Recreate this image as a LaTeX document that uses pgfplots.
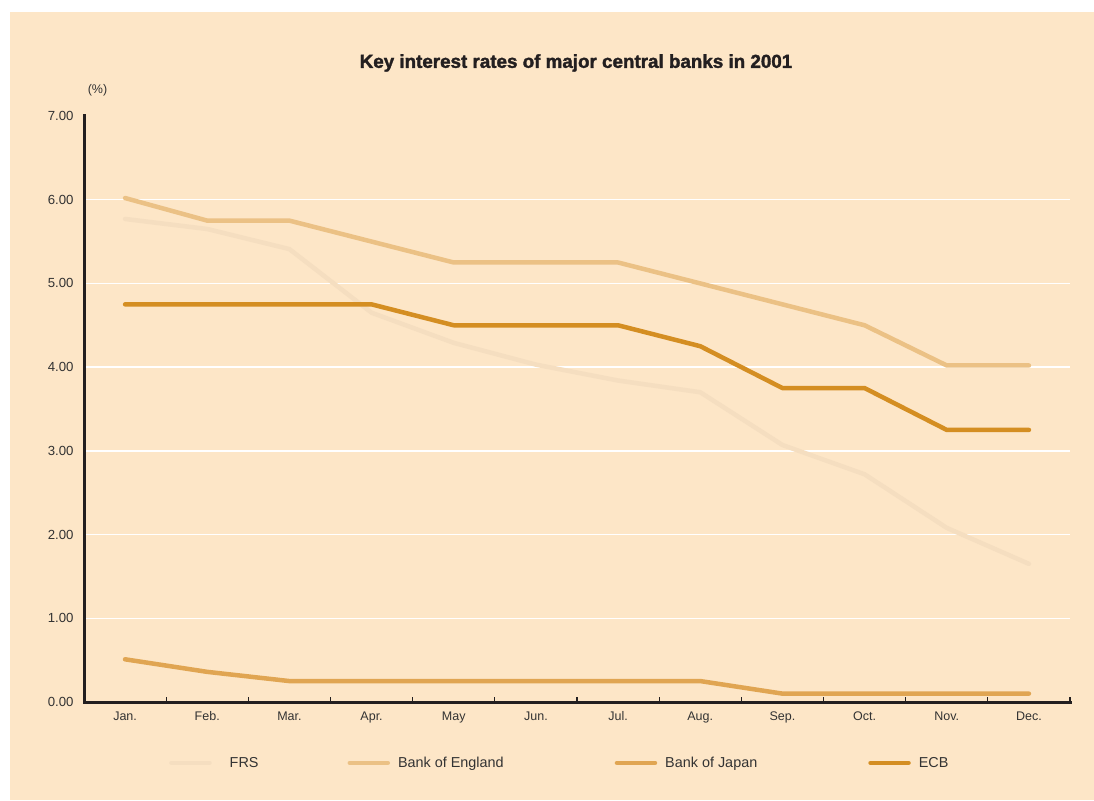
\documentclass[border=0pt]{standalone}
\usepackage{fontspec}
\setmainfont{Liberation Sans}
\newfontfamily\titlefont{Liberation Sans Bold}[FakeBold=1.8]
\usepackage{pgfplots}
\pgfplotsset{compat=1.18}
\definecolor{bg}{HTML}{FDE6C7}
\definecolor{frs}{HTML}{F5DEC0}
\definecolor{boe}{HTML}{EBC185}
\definecolor{boj}{HTML}{E0A552}
\definecolor{ecb}{HTML}{D48E22}
\definecolor{axisc}{HTML}{231F20}
\definecolor{txt}{HTML}{333333}
\begin{document}
\begin{tikzpicture}[x=1pt,y=1pt]
\fill[white] (0,0) rectangle (1094,800);
\fill[bg] (10,0) rectangle (1094,788);
\node[font=\titlefont\fontsize{18.8}{21}\selectfont, text=axisc] at (576,737) {Key interest rates of major central banks in 2001};
\node[font=\fontsize{12.5}{14}\selectfont, text=txt] at (97.5,710) {(\%)};
\begin{axis}[
  scale only axis, width=986pt, height=586pt,
  at={(84pt,98pt)}, anchor=south west,
  xmin=-0.5, xmax=11.5, ymin=0, ymax=7,
  axis lines=left,
  axis line style={-, line width=3pt, axisc, line cap=rect},
  ytick={0,1,...,6},
  extra y ticks={7},
  extra y tick style={grid=none},
  ymajorgrids,
  grid style={white, line width=1.5pt},
  major tick length=0pt,
  /pgf/number format/fixed,
  /pgf/number format/fixed zerofill,
  /pgf/number format/precision=2,
  /pgf/number format/assume math mode=true,
  tick label style={font=\fontsize{12.5}{14}\selectfont, text=txt},
  xtick={0,...,11},
  xticklabels={Jan.,Feb.,Mar.,Apr.,May,Jun.,Jul.,Aug.,Sep.,Oct.,Nov.,Dec.},
  minor xtick={0.5,1.5,...,11.5},
  minor tick length=5pt,
  tick align=inside,
  minor tick style={axisc, line width=1.2pt},
  xticklabel style={anchor=north, text height=9pt, text depth=2.5pt, yshift=-6pt},
  yticklabel style={xshift=-7pt, font=\fontsize{13.2}{15}\selectfont},
  legend style={draw=none, fill=none, at={(0.0832,-0.104)}, anchor=west,
    font=\fontsize{14.4}{16}\selectfont, text=txt,
    /tikz/every even column/.append style={column sep=109pt},
    /tikz/every odd column/.append style={column sep=6pt}},
  legend columns=4,
  legend cell align=left,
  legend image code/.code={\draw[#1, line width=4.5pt, line cap=round] (2pt,0pt) -- (40pt,0pt);},
  every axis plot/.append style={line width=4.5pt, line cap=round, line join=round, mark=none},
]
\addplot[frs] coordinates {(0,5.77) (1,5.65) (2,5.41) (3,4.65) (4,4.29) (5,4.03) (6,3.84) (7,3.70) (8,3.07) (9,2.72) (10,2.08) (11,1.65)};
\addlegendentry{\hspace*{10pt}FRS\hspace*{-22pt}}
\addplot[boe] coordinates {(0,6.02) (1,5.75) (2,5.75) (3,5.50) (4,5.25) (5,5.25) (6,5.25) (7,5.00) (8,4.75) (9,4.50) (10,4.02) (11,4.02)};
\addlegendentry{Bank of England}
\addplot[boj] coordinates {(0,0.51) (1,0.36) (2,0.25) (3,0.25) (4,0.25) (5,0.25) (6,0.25) (7,0.25) (8,0.10) (9,0.10) (10,0.10) (11,0.10)};
\addlegendentry{Bank of Japan}
\addplot[ecb] coordinates {(0,4.75) (1,4.75) (2,4.75) (3,4.75) (4,4.50) (5,4.50) (6,4.50) (7,4.25) (8,3.75) (9,3.75) (10,3.25) (11,3.25)};
\addlegendentry{ECB}
\end{axis}
\end{tikzpicture}
\end{document}
